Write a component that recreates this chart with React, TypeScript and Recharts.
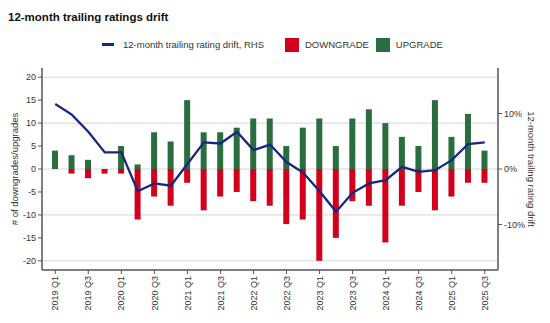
import React from "react";
import {
  ComposedChart,
  Bar,
  Line,
  XAxis,
  YAxis,
  CartesianGrid,
} from "recharts";

const categories = [
  "2019 Q1", "2019 Q2", "2019 Q3", "2019 Q4",
  "2020 Q1", "2020 Q2", "2020 Q3", "2020 Q4",
  "2021 Q1", "2021 Q2", "2021 Q3", "2021 Q4",
  "2022 Q1", "2022 Q2", "2022 Q3", "2022 Q4",
  "2023 Q1", "2023 Q2", "2023 Q3", "2023 Q4",
  "2024 Q1", "2024 Q2", "2024 Q3", "2024 Q4",
  "2025 Q1", "2025 Q2", "2025 Q3",
];
const upgrades = [4, 3, 2, 0, 5, 1, 8, 6, 15, 8, 8, 9, 11, 11, 5, 9, 11, 5, 11, 13, 10, 7, 5, 15, 7, 12, 4];
const downgrades = [0, -1, -2, -1, -1, -11, -6, -8, -3, -9, -6, -5, -7, -8, -12, -11, -20, -15, -7, -8, -16, -8, -5, -9, -6, -3, -3];
const drift = [11.7, 9.8, 6.7, 3.0, 3.0, -4.0, -2.6, -3.0, 0.9, 4.8, 4.6, 6.7, 3.4, 4.4, 1.25, -0.65, -4.0, -7.7, -4.3, -2.6, -2.0, 0.4, -0.5, -0.2, 1.6, 4.5, 4.8];

const leftTicks = [-20, -15, -10, -5, 0, 5, 10, 15, 20];
const rightTicks = [-10, 0, 10];

const title = "12-month trailing ratings drift";
const lineName = "12-month trailing rating drift, RHS";
const downName = "DOWNGRADE";
const upName = "UPGRADE";
const leftLabel = "# of downgrades/upgrades";
const rightLabel = "12-month trailing rating drift";

const data = categories.map((c, i) => ({
  cat: c,
  up: upgrades[i],
  down: downgrades[i],
  drift: drift[i],
}));

const FONT = "'Liberation Sans', Arial, Helvetica, sans-serif";
const RED = "#D2001A";
const GREEN = "#2A6E3F";
const NAVY = "#15287F";
const AXIS = "#555555";
const TEXT = "#333333";
const GRID = "#D6D6D6";

const XTick = (props: any) => {
  const { x, y, payload } = props;
  return (
    <text
      x={x}
      y={y}
      transform={`rotate(-90 ${x} ${y})`}
      textAnchor="end"
      dy="0.35em"
      fontSize={9}
      fill={TEXT}
      fontFamily={FONT}
    >
      {payload.value}
    </text>
  );
};

const LeftLabel = (props: any) => {
  const vb = props.viewBox || { x: 0, y: 0, width: 0, height: 0 };
  const cx = vb.x + 15;
  const cy = vb.y + vb.height / 2;
  return (
    <text
      x={cx}
      y={cy}
      transform={`rotate(-90 ${cx} ${cy})`}
      textAnchor="middle"
      dy="0.35em"
      fontSize={9.5}
      fill={TEXT}
      fontFamily={FONT}
    >
      {leftLabel}
    </text>
  );
};

const RightLabel = (props: any) => {
  const vb = props.viewBox || { x: 0, y: 0, width: 0, height: 0 };
  const cx = vb.x + 33;
  const cy = vb.y + vb.height / 2;
  return (
    <text
      x={cx}
      y={cy}
      transform={`rotate(90 ${cx} ${cy})`}
      textAnchor="middle"
      dy="0.35em"
      fontSize={9.5}
      fill={TEXT}
      fontFamily={FONT}
    >
      {rightLabel}
    </text>
  );
};

export default function App() {
  return (
    <div
      style={{
        position: "absolute",
        left: 0,
        top: 0,
        width: 550,
        height: 323,
        background: "#fff",
        fontFamily: FONT,
      }}
    >
      <div
        style={{
          position: "absolute",
          left: 8,
          top: 11,
          fontSize: 11.5,
          fontWeight: "bold",
          color: "#111",
          whiteSpace: "nowrap",
        }}
      >
        {title}
      </div>
      <div
        style={{
          position: "absolute",
          left: 102,
          top: 37,
          height: 15,
          display: "flex",
          alignItems: "center",
          fontSize: 9.5,
          color: TEXT,
          whiteSpace: "nowrap",
        }}
      >
        <span style={{ display: "inline-block", width: 12, height: 2.5, background: NAVY }} />
        <span style={{ marginLeft: 9 }}>{lineName}</span>
        <span
          style={{
            display: "inline-block",
            width: 14,
            height: 14,
            background: RED,
            marginLeft: 21,
          }}
        />
        <span style={{ marginLeft: 6 }}>{downName}</span>
        <span
          style={{
            display: "inline-block",
            width: 14,
            height: 14,
            background: GREEN,
            marginLeft: 7,
          }}
        />
        <span style={{ marginLeft: 6 }}>{upName}</span>
      </div>
      <div style={{ position: "absolute", left: 0, top: 0 }}>
        <ComposedChart
          width={550}
          height={323}
          data={data}
          stackOffset="sign"
          margin={{ top: 68, right: 0, bottom: 0, left: 0 }}
        >
          <CartesianGrid
            yAxisId="left"
            vertical={false}
            syncWithTicks
            stroke={GRID}
            strokeWidth={1}
          />
          <XAxis
            dataKey="cat"
            interval={1}
            height={53}
            tickSize={4}
            tickMargin={2}
            padding={{ left: 5, right: 5 }}
            tick={<XTick />}
            axisLine={{ stroke: AXIS, strokeWidth: 1.5 }}
            tickLine={{ stroke: AXIS }}
          />
          <YAxis
            yAxisId="left"
            orientation="left"
            width={42}
            domain={[-22, 22]}
            ticks={leftTicks}
            tickSize={4}
            tickMargin={2}
            axisLine={{ stroke: AXIS, strokeWidth: 1.5 }}
            tickLine={{ stroke: AXIS }}
            tick={{ fontSize: 9, fill: TEXT, fontFamily: FONT }}
            label={<LeftLabel />}
            allowDataOverflow
          />
          <YAxis
            yAxisId="right"
            orientation="right"
            width={52}
            domain={[-18.2, 18.2]}
            ticks={rightTicks}
            tickFormatter={(v: number) => `${v}%`}
            tickSize={4}
            tickMargin={2}
            axisLine={{ stroke: AXIS, strokeWidth: 1.5 }}
            tickLine={{ stroke: AXIS }}
            tick={{ fontSize: 9, fill: TEXT, fontFamily: FONT }}
            label={<RightLabel />}
            allowDataOverflow
          />
          <Bar
            yAxisId="left"
            dataKey="down"
            stackId="s"
            fill={RED}
            barSize={6}
            isAnimationActive={false}
          />
          <Bar
            yAxisId="left"
            dataKey="up"
            stackId="s"
            fill={GREEN}
            barSize={6}
            isAnimationActive={false}
          />
          <Line
            yAxisId="right"
            dataKey="drift"
            stroke={NAVY}
            strokeWidth={2.3}
            dot={false}
            activeDot={false}
            type="linear"
            isAnimationActive={false}
          />
        </ComposedChart>
      </div>
    </div>
  );
}
